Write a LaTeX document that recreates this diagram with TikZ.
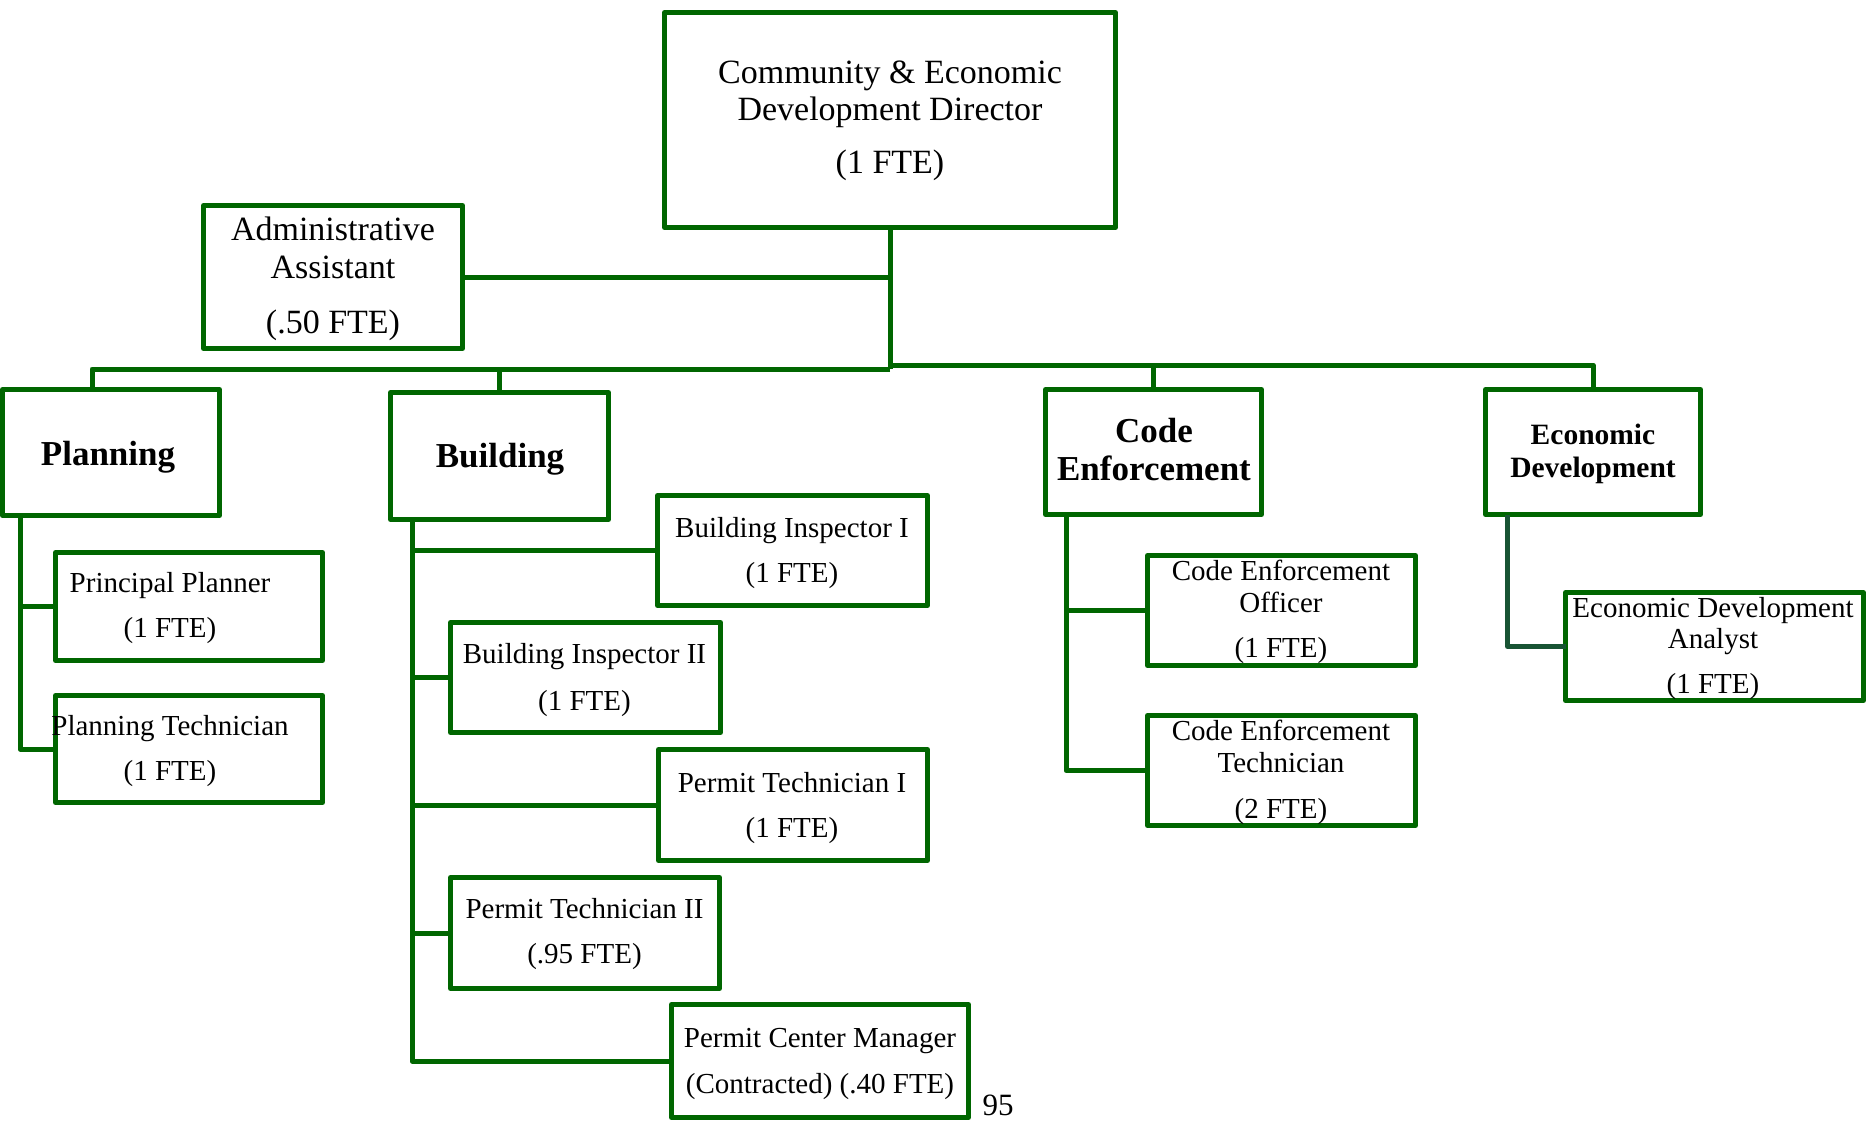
\documentclass[tikz,border=0pt]{standalone}
\usepackage{fontspec}
\setmainfont{Liberation Serif}
\definecolor{orggreen}{RGB}{0,102,0}
\definecolor{orgteal}{RGB}{24,84,52}
\tikzset{
  box/.style={draw=orggreen, line width=5pt, line join=round, inner sep=0pt, outer sep=0pt},
  sz/.style 2 args={minimum width=#1pt, minimum height=#2pt},
  conn/.style={draw=orggreen, line width=5pt, line join=round},
  txt/.style={anchor=base, inner sep=0pt, text=black, font=\fontsize{29}{32}\selectfont},
  bigtxt/.style={txt, font=\fontsize{34}{36}\selectfont},
  head/.style={anchor=base, inner sep=0pt, text=black, font=\fontsize{35}{38}\selectfont\bfseries},
}
\newcommand\orgline[5][txt]{\node[#1] (#2) at (#3,#4) {#5};}
\begin{document}
\begin{tikzpicture}[x=1pt,y=-1pt]
\useasboundingbox (0,0) rectangle (1874,1124);

% boxes
\node[box, sz={451}{215}] (dir)   at (890,120) {};
\node[box, sz={259}{143}] (admin) at (333,277) {};
\node[box, sz={217}{126}] (plan)  at (111,452.5) {};
\node[box, sz={218}{127}] (bld)   at (499.5,456) {};
\node[box, sz={216}{125}] (ce)    at (1153.5,452) {};
\node[box, sz={215}{125}] (ed)    at (1593,452) {};
\node[box, sz={267}{108}] (pp)    at (189,606.5) {};
\node[box, sz={267}{107}] (ptec)  at (189,749) {};
\node[box, sz={270}{110}] (bi1)   at (792.5,550.5) {};
\node[box, sz={270}{110}] (bi2)   at (585.5,677.5) {};
\node[box, sz={269}{111}] (pt1)   at (793,805) {};
\node[box, sz={269}{111}] (pt2)   at (585,933) {};
\node[box, sz={297}{113}] (pcm)   at (820,1061) {};
\node[box, sz={268}{110}] (ceo)   at (1281.5,610.5) {};
\node[box, sz={268}{110}] (cet)   at (1281.5,770.5) {};
\node[box, sz={298}{108}] (eda)   at (1714.5,646.5) {};

% junction points of the buses and spines
\coordinate (hubL) at (890,369);
\coordinate (hubR) at (890,365);
\coordinate (pspine) at ([xshift=17.5pt]plan.south west);
\coordinate (bspine) at ([xshift=21.5pt]bld.south west);
\coordinate (cspine) at ([xshift=20.5pt]ce.south west);
\coordinate (espine) at ([xshift=22pt]ed.south west);
\coordinate (ptop) at ([xshift=-19pt]plan.north);

% top level connectors
\draw[conn] (dir.south) -- (hubL);
\draw[conn] (dir.south) |- (admin.east);
\draw[conn] (hubL) -| (ptop);
\draw[conn] (bld.north) -- (bld.north |- hubL);
\draw[conn] (hubR) -| (ed.north);
\draw[conn] (ce.north) -- (ce.north |- hubR);

% planning
\draw[conn] (pspine) |- (ptec.west);
\draw[conn] (pp.west) -- (pp.west -| pspine);

% building
\draw[conn] (bspine) |- (pcm.west);
\draw[conn] (bi1.west) -- (bi1.west -| bspine);
\draw[conn] (bi2.west) -- (bi2.west -| bspine);
\draw[conn] (pt1.west) -- (pt1.west -| bspine);
\draw[conn] (pt2.west) -- (pt2.west -| bspine);

% code enforcement
\draw[conn] (cspine) |- (cet.west);
\draw[conn] (ceo.west) -- (ceo.west -| cspine);

% economic development
\draw[conn, draw=orgteal] (espine) |- (eda.west);

% texts
\orgline[bigtxt]{dir1}{890}{83}{Community \& Economic}
\orgline[bigtxt]{dir2}{890}{120}{Development Director}
\orgline[bigtxt]{dir3}{890}{173}{(1 FTE)}
\orgline[bigtxt]{adm1}{333}{240}{Administrative}
\orgline[bigtxt]{adm2}{333}{278}{Assistant}
\orgline[bigtxt]{adm3}{333}{333}{(.50 FTE)}

\orgline[head]{plan1}{108}{465}{Planning}
\orgline[head]{bld1}{500}{467}{Building}
\orgline[head]{ce1}{1154}{442}{Code}
\orgline[head]{ce2}{1154}{480}{Enforcement}
\node[head, font=\fontsize{29.5}{31}\selectfont\bfseries] (ed1) at (1593,444) {Economic};
\node[head, font=\fontsize{29.5}{31}\selectfont\bfseries] (ed2) at (1593,477) {Development};

\orgline{pp1}{170}{592}{Principal Planner}
\orgline{pp2}{170}{637}{(1 FTE)}
\orgline{ptec1}{170}{735}{Planning Technician}
\orgline{ptec2}{170}{780}{(1 FTE)}

\orgline{bi11}{792}{537}{Building Inspector I}
\orgline{bi12}{792}{582}{(1 FTE)}
\orgline{bi21}{584.5}{663}{Building Inspector II}
\orgline{bi22}{584.5}{710}{(1 FTE)}
\orgline{pt11}{792}{792}{Permit Technician I}
\orgline{pt12}{792}{837}{(1 FTE)}
\orgline{pt21}{584.5}{918}{Permit Technician II}
\orgline{pt22}{584.5}{963}{(.95 FTE)}
\orgline{pcm1}{820}{1047}{Permit Center Manager}
\orgline{pcm2}{820}{1093}{(Contracted) (.40 FTE)}

\orgline{ceo1}{1281}{580}{Code Enforcement}
\orgline{ceo2}{1281}{612}{Officer}
\orgline{ceo3}{1281}{657}{(1 FTE)}
\orgline{cet1}{1281}{740}{Code Enforcement}
\orgline{cet2}{1281}{772}{Technician}
\orgline{cet3}{1281}{818}{(2 FTE)}

\orgline{eda1}{1713}{617}{Economic Development}
\orgline{eda2}{1713}{648}{Analyst}
\orgline{eda3}{1713}{693}{(1 FTE)}

\node[txt, font=\fontsize{31}{32}\selectfont] (page) at (998,1115) {95};
\end{tikzpicture}
\end{document}
